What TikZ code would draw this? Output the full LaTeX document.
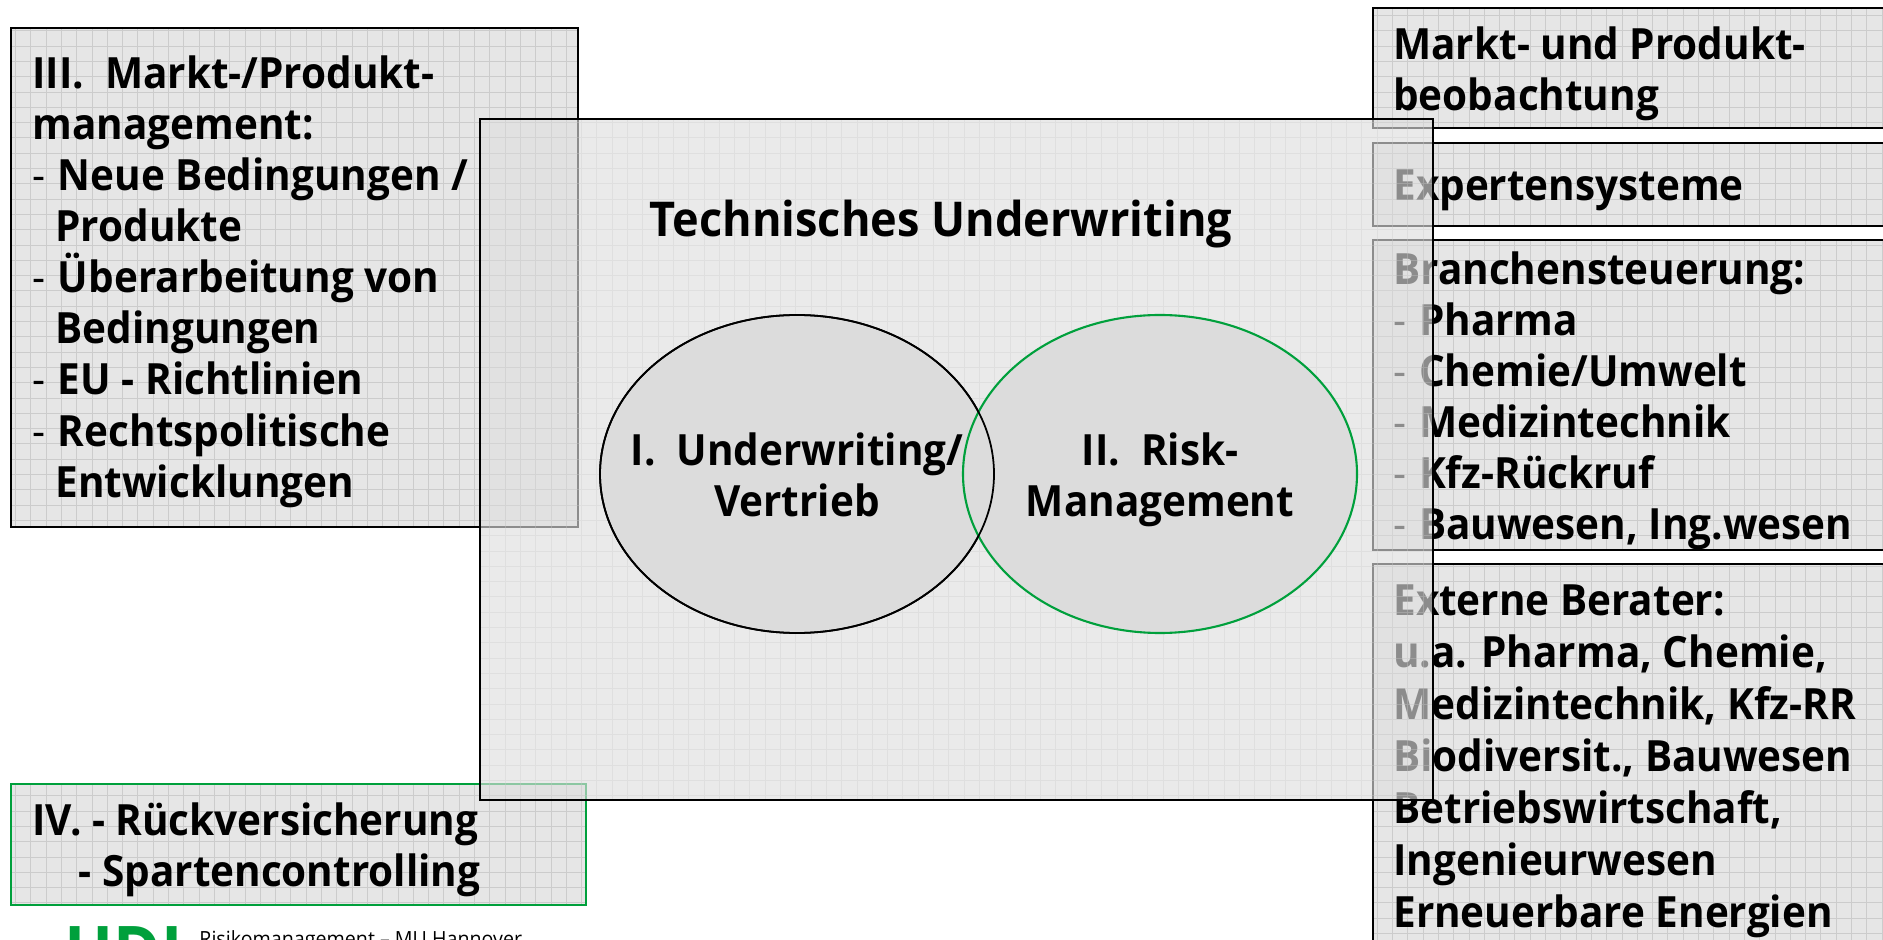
\documentclass[tikz,border=0pt]{standalone}
\usepackage{fontspec}
\setmainfont{Open Sans}[FakeStretch=0.94]
\usetikzlibrary{positioning}
\definecolor{boxfill}{HTML}{E6E6E6}
\definecolor{gridcol}{HTML}{CCCCCC}
\definecolor{hdigreen}{HTML}{00A03C}
\definecolor{circlefill}{HTML}{DCDCDC}
\newcommand{\thindash}{{\mdseries -}\hspace{1.2pt}\ }
\newcommand{\hangline}{\hspace{1.2pt}\ \ }
\tikzset{
  boxtext/.style={inner sep=0pt,anchor=north west,align=left,font=\fontsize{24.5}{29.1}\selectfont\bfseries},
  gridline/.style={draw=gridcol,line width=0.3pt},
  frame/.style={line width=1pt},
  circlelabel/.style={inner sep=0pt,align=center,font=\fontsize{24.5}{29.1}\selectfont\bfseries}
}
% textured box: x1,y1,x2,y2,frame colour
\newcommand{\gridbox}[5]{
  \fill [boxfill] (#1,#2) rectangle (#3,#4);
  \begin{scope}
    \clip (#1,#2) rectangle (#3,#4);
    \draw [gridline,step=3.06mm] (#1,#2) grid (#3,#4);
  \end{scope}
  \draw [#5,frame] (#1,#2) rectangle (#3,#4);
}
\begin{document}
\begin{tikzpicture}[x=0.2mm,y=0.2mm]
\clip (0,0) rectangle (1883,-940);
\fill [white] (0,0) rectangle (1883,-940);
% left boxes
\gridbox{11}{-28}{578}{-527}{black}
\gridbox{11}{-784}{586}{-905}{hdigreen}
% right boxes
\gridbox{1373}{-8}{1900}{-128}{black}
\gridbox{1373}{-143}{1900}{-226}{black}
\gridbox{1373}{-240}{1900}{-550}{black}
\gridbox{1373}{-564}{1900}{-960}{black}
\node [boxtext] (markt) at (32,-55) {III.\ \ Markt-/Produkt-\\management:\\\thindash Neue Bedingungen /\\\hangline Produkte\\\thindash Überarbeitung von\\\hangline Bedingungen\\\thindash EU - Richtlinien\\\thindash Rechtspolitische\\\hangline Entwicklungen};
\node [boxtext] (rueck) at (32,-802) {IV. - Rückversicherung\\\hspace{2.5pt}\ \ \ \ - Spartencontrolling};
\node [boxtext] (beob) at (1393,-26) {Markt- und Produkt-\\beobachtung};
\node [boxtext] (experten) at (1393,-169) {Expertensysteme};
\node [boxtext] (branchen) at (1393,-251) {Branchensteuerung:\\\thindash Pharma\\\thindash Chemie/Umwelt\\\thindash Medizintechnik\\\thindash Kfz-Rückruf\\\thindash Bauwesen, Ing.wesen};
\node [boxtext,font=\fontsize{24.5}{29.6}\selectfont\bfseries] (berater) at (1393,-584) {Externe Berater:\\u.a. Pharma, Chemie,\\Medizintechnik, Kfz-RR\\Biodiversit., Bauwesen\\Betriebswirtschaft,\\Ingenieurwesen\\Erneuerbare Energien};
% central box lies over the others
\fill [fill=black!12.5,fill opacity=0.63] (480,-119) rectangle (1433,-800);
\begin{scope}
  \clip (480,-119) rectangle (1433,-800);
  \draw [gridline,draw opacity=0.35,step=3.06mm] (480,-119) grid (1433,-800);
\end{scope}
\draw [black,frame] (480,-119) rectangle (1433,-800);
\node [circlelabel,font=\fontsize{27.3}{32}\selectfont\bfseries] (title) at (941,-224) {Technisches Underwriting};
\draw [black,frame,fill=circlefill] (797,-474) circle [x radius=197,y radius=159];
\draw [hdigreen,line width=1.2pt,fill=circlefill] (1160,-474) circle [x radius=197,y radius=159];
\draw [black,frame] (797,-474) circle [x radius=197,y radius=159];
\node [circlelabel] (under) at (797,-475) {I.\ \ Underwriting/\\Vertrieb};
\node [circlelabel] (risk) at (1160,-480) {II.\ \ Risk-\\Management};
% logo at the lower edge
\node [inner sep=0pt,anchor=north west,text=hdigreen,font=\fontsize{39}{39}\selectfont\bfseries] (hdi) at (64,-926) {HDI};
\node [inner sep=0pt,anchor=north west,font=\fontsize{11.9}{13}\selectfont] (foot) at (199,-930) {Risikomanagement -- MU Hannover};
\end{tikzpicture}
\end{document}
